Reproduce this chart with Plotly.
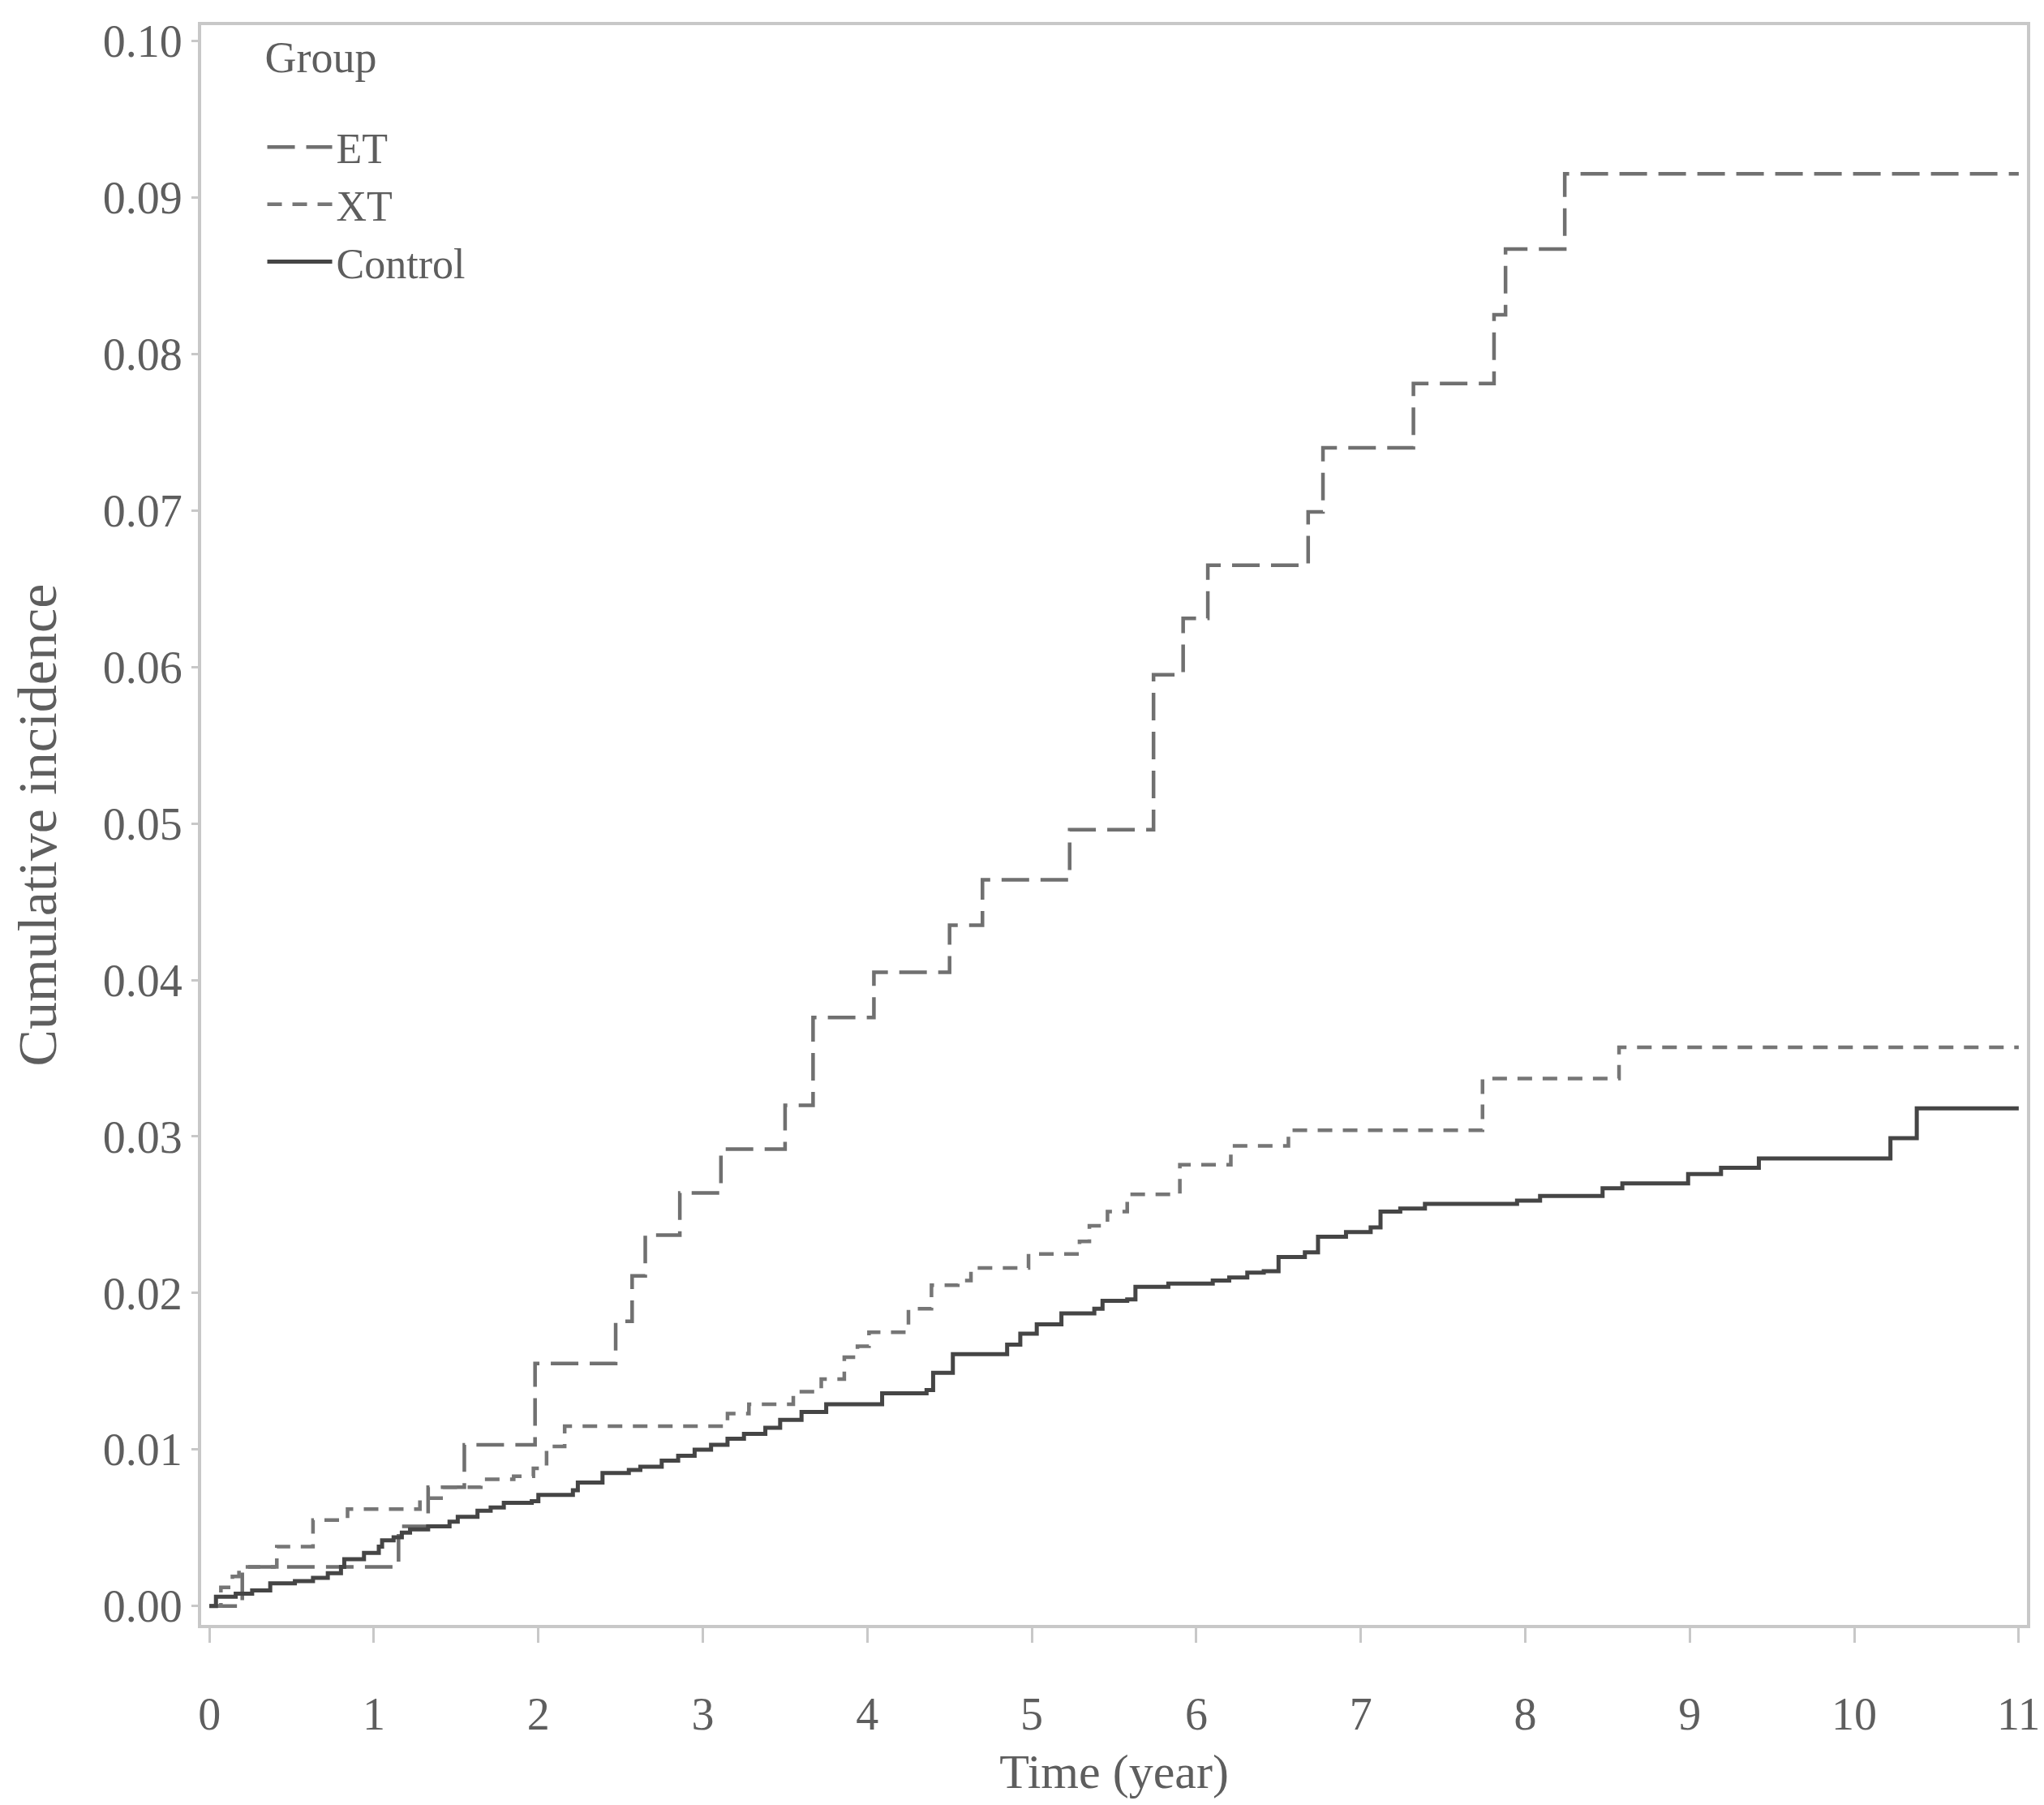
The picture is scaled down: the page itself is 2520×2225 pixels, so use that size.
import plotly.graph_objects as go

# ET group (step function: time of jump, value after jump)
et_time = [0, 0.20, 1.15, 1.33, 1.55, 1.98, 2.47, 2.57, 2.65, 2.86, 3.11, 3.50, 3.67,
           4.04, 4.50, 4.70, 5.23, 5.74, 5.92, 6.07, 6.68, 6.77, 7.32, 7.81, 7.88, 8.24, 11.0]
et_val = [0, 0.0025, 0.0051, 0.0076, 0.0103, 0.0155, 0.0182, 0.0211, 0.0237, 0.0264, 0.0292, 0.0320, 0.0376,
          0.0405, 0.0435, 0.0464, 0.0496, 0.0595, 0.0631, 0.0665, 0.0699, 0.0740, 0.0781, 0.0825, 0.0867, 0.0915, 0.0915]

# XT group
xt_time = [0, 0.07, 0.14, 0.18, 0.41, 0.63, 0.84, 1.28, 1.42, 1.65, 1.85, 1.97, 2.05, 2.16,
           3.15, 3.28, 3.55, 3.72, 3.86, 3.94, 4.01, 4.25, 4.39, 4.55, 4.63, 4.98, 5.29, 5.35,
           5.46, 5.58, 5.90, 6.21, 6.56, 7.74, 8.57, 11.0]
xt_val = [0, 0.0012, 0.0019, 0.0025, 0.0038, 0.0055, 0.0062, 0.0069, 0.0076, 0.0081, 0.0083, 0.0088, 0.0102, 0.0115,
          0.0123, 0.0129, 0.0137, 0.0145, 0.0159, 0.0166, 0.0175, 0.0190, 0.0205, 0.0208, 0.0216, 0.0225, 0.0233, 0.0243,
          0.0252, 0.0263, 0.0282, 0.0294, 0.0304, 0.0337, 0.0357, 0.0357]

# Control group
ctrl_time = [0, 0.04, 0.16, 0.26, 0.37, 0.52, 0.63, 0.72, 0.80, 0.82, 0.94, 1.03, 1.05, 1.12, 1.17, 1.22,
             1.33, 1.46, 1.51, 1.63, 1.71, 1.79, 1.96, 2.00, 2.21, 2.24, 2.39, 2.55, 2.62, 2.75, 2.85,
             2.95, 3.05, 3.15, 3.25, 3.38, 3.47, 3.60, 3.75, 4.09, 4.36, 4.40, 4.52, 4.85, 4.93, 5.03,
             5.18, 5.38, 5.43, 5.58, 5.63, 5.83, 6.10, 6.20, 6.31, 6.41, 6.50, 6.66, 6.74, 6.91, 7.06,
             7.12, 7.24, 7.39, 7.95, 8.09, 8.47, 8.59, 8.99, 9.19, 9.42, 10.22, 10.38, 11.0]
ctrl_val = [0, 0.0006, 0.0008, 0.0010, 0.00145, 0.0016, 0.0018, 0.0021, 0.0025, 0.0030, 0.0034, 0.0038, 0.0042,
            0.0044, 0.0047, 0.0049, 0.0051, 0.0054, 0.0057, 0.0061, 0.0063, 0.0066, 0.0067, 0.0071, 0.0074,
            0.0079, 0.0085, 0.0087, 0.0089, 0.0093, 0.0096, 0.0100, 0.0103, 0.0107, 0.0110, 0.0114, 0.0119,
            0.0124, 0.0129, 0.0136, 0.0138, 0.0149, 0.0161, 0.0167, 0.0174, 0.0180, 0.0187, 0.0190, 0.0195,
            0.0196, 0.0204, 0.0206, 0.0208, 0.0210, 0.0213, 0.0214, 0.0223, 0.0226, 0.0236, 0.0239, 0.0242,
            0.0252, 0.0254, 0.0257, 0.0259, 0.0262, 0.0267, 0.0270, 0.0276, 0.0280, 0.0286, 0.0299, 0.0318, 0.0318]

x_ticks = list(range(0, 12))
y_ticks = [i / 100 for i in range(0, 11)]

FONT = "Liberation Serif"
TXT = "#5e5e5e"

fig = go.Figure()
fig.add_trace(go.Scatter(x=et_time, y=et_val, mode="lines", name="ET", line_shape="hv",
                         line=dict(color="#707070", width=4.5, dash="34px,14px")))
fig.add_trace(go.Scatter(x=xt_time, y=xt_val, mode="lines", name="XT", line_shape="hv",
                         line=dict(color="#767676", width=4.5, dash="18px,13px")))
fig.add_trace(go.Scatter(x=ctrl_time, y=ctrl_val, mode="lines", name="Control", line_shape="hv",
                         line=dict(color="#454545", width=5)))

fig.update_layout(
    width=2520, height=2225,
    margin=dict(l=240, r=26, t=12, b=230),
    paper_bgcolor="white", plot_bgcolor="white",
    font=dict(family=FONT, size=55, color=TXT),
    legend=dict(title=dict(text="<span style='font-size:54px'>Group</span><br> ",
                           font=dict(size=40, family=FONT, color=TXT)),
                x=0.034, y=0.997, xanchor="left", yanchor="top",
                bgcolor="rgba(0,0,0,0)", font=dict(size=52, family=FONT, color=TXT),
                itemwidth=80, tracegroupgap=0),
)
fig.update_xaxes(range=[-0.05, 11.05], tickvals=x_ticks, ticktext=[str(v) for v in x_ticks],
                 showgrid=False, zeroline=False, showline=True, mirror=True,
                 linecolor="#c8c8c8", linewidth=4, ticks="outside", ticklen=18, tickwidth=3,
                 tickcolor="#c8c8c8", tickfont=dict(size=56, family=FONT, color=TXT),
                 ticklabelstandoff=40,
                 title=dict(text="Time (year)", standoff=20, font=dict(size=60, family=FONT, color=TXT)))
fig.update_yaxes(range=[-0.0012, 0.101], tickvals=y_ticks, tickformat=".2f",
                 showgrid=False, zeroline=False, showline=True, mirror=True,
                 linecolor="#c8c8c8", linewidth=4, ticks="outside", ticklen=8, tickwidth=3,
                 tickcolor="#c8c8c8", tickfont=dict(size=56, family=FONT, color=TXT),
                 title=dict(text="Cumulative incidence", standoff=40, font=dict(size=68, family=FONT, color=TXT)))

fig.write_html("out.html")
